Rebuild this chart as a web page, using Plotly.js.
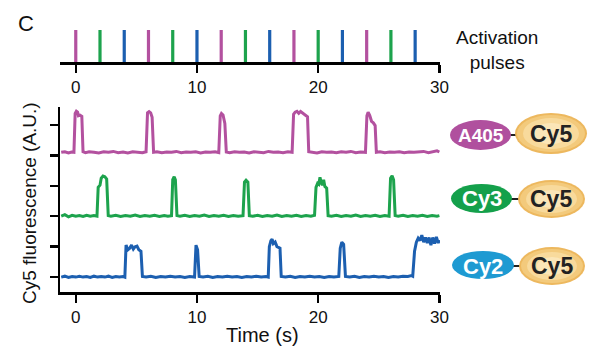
<!DOCTYPE html>
<html><head><meta charset="utf-8">
<script src="https://cdn.plot.ly/plotly-3.0.1.min.js"></script>
<style>html,body{margin:0;padding:0;background:#fff}#chart{width:594px;height:351px}</style>
</head><body><div id="chart"></div>
<script>
// Activation pulse times (s)
const pulseA405 = [0, 6, 12, 18, 24];
const pulseCy3 = [2, 8, 14, 20, 26];
const pulseCy2 = [4, 10, 16, 22, 28];
const pulseHeight = 1;
const xTicks = [0, 10, 20, 30];
const yTicks = [0, 1, 2, 3, 4, 5];

// Fluorescence traces [time (s), offset intensity (A.U.)]
const traceA405 = [[-1.2,4.10],[-0.9,4.12],[-0.6,4.08],[-0.35,4.11],[-0.15,4.10],
[-0.05,5.38],[0.05,5.45],[0.15,5.42],[0.22,5.30],[0.35,5.32],[0.5,5.28],[0.6,4.12],
[0.8,4.09],[1.1,4.12],[1.5,4.10],[1.9,4.08],[2.3,4.12],[2.7,4.10],[3.1,4.13],[3.5,4.09],[3.9,4.11],[4.3,4.08],[4.7,4.12],[5.1,4.10],[5.5,4.09],[5.8,4.12],
[5.92,5.40],[6.05,5.44],[6.18,5.40],[6.3,5.25],[6.42,4.10],
[6.7,4.12],[7.1,4.09],[7.5,4.11],[7.9,4.10],[8.3,4.13],[8.7,4.09],[9.1,4.11],[9.5,4.10],[9.9,4.12],[10.3,4.08],[10.7,4.11],[11.1,4.10],[11.5,4.12],[11.8,4.09],
[11.92,5.30],[12.02,5.38],[12.15,5.33],[12.3,5.05],[12.42,4.11],
[12.7,4.09],[13.1,4.12],[13.5,4.10],[13.9,4.11],[14.3,4.08],[14.7,4.12],[15.1,4.10],[15.5,4.09],[15.9,4.13],[16.3,4.10],[16.7,4.11],[17.1,4.09],[17.5,4.12],[17.85,4.10],
[17.97,5.35],[18.1,5.42],[18.25,5.45],[18.4,5.38],[18.55,5.44],[18.7,5.40],[18.85,5.36],[19.0,5.30],[19.12,5.27],[19.22,4.12],
[19.5,4.10],[19.9,4.08],[20.3,4.12],[20.7,4.10],[21.1,4.11],[21.5,4.09],[21.9,4.12],[22.3,4.10],[22.7,4.13],[23.1,4.09],[23.5,4.11],[23.9,4.10],
[24.02,5.30],[24.12,5.42],[24.25,5.32],[24.4,5.12],[24.55,5.07],[24.7,4.98],[24.8,4.10],
[25.1,4.12],[25.5,4.09],[25.9,4.11],[26.3,4.10],[26.7,4.12],[27.1,4.09],[27.5,4.11],[27.9,4.10],[28.3,4.12],[28.7,4.13],[29.1,4.09],[29.5,4.12],[29.8,4.15],[30.0,4.11]];

const traceCy3 = [[-1.2,2.0],[-0.9,2.05],[-0.6,1.98],[-0.3,2.03],[0.0,2.0],[0.3,2.02],[0.6,1.99],[0.9,2.03],[1.2,2.0],[1.5,2.02],[1.75,2.0],
[1.85,2.95],[2.0,3.02],[2.1,3.25],[2.25,3.32],[2.4,3.30],[2.55,3.22],[2.68,2.02],
[2.9,2.0],[3.3,2.03],[3.7,1.99],[4.1,2.02],[4.5,2.0],[4.9,2.04],[5.3,1.99],[5.7,2.02],[6.1,2.0],[6.5,2.03],[6.9,1.99],[7.3,2.02],[7.6,2.0],[7.9,2.02],
[8.0,3.2],[8.12,3.3],[8.22,3.2],[8.35,2.02],
[8.6,2.0],[9.0,2.03],[9.4,1.99],[9.8,2.02],[10.2,2.0],[10.6,2.04],[11.0,1.99],[11.4,2.02],[11.8,2.0],[12.2,2.03],[12.6,1.99],[13.0,2.02],[13.4,2.0],[13.8,2.02],
[13.92,3.12],[14.05,3.18],[14.2,3.12],[14.32,2.02],
[14.6,2.0],[15.0,2.03],[15.4,1.99],[15.8,2.02],[16.2,2.0],[16.6,2.04],[17.0,1.99],[17.4,2.02],[17.8,2.0],[18.2,2.03],[18.6,1.99],[19.0,2.02],[19.4,2.0],[19.7,2.03],
[19.82,2.95],[19.95,3.08],[20.05,3.05],[20.15,3.28],[20.25,3.1],[20.35,3.02],[20.45,3.2],[20.55,2.98],[20.7,2.92],[20.82,2.02],
[21.1,2.0],[21.5,2.03],[21.9,1.99],[22.3,2.02],[22.7,2.0],[23.1,2.04],[23.5,1.99],[23.9,2.02],[24.3,2.0],[24.7,2.03],[25.1,1.99],[25.5,2.02],[25.85,2.0],
[25.97,3.25],[26.1,3.33],[26.22,3.2],[26.35,2.02],
[26.6,2.0],[27.0,2.03],[27.4,1.99],[27.8,2.02],[28.2,2.0],[28.6,2.03],[29.0,1.99],[29.4,2.02],[29.8,2.0],[30.0,2.02]];

const traceCy2 = [[-1.2,0.0],[-0.9,0.03],[-0.6,-0.01],[-0.3,0.02],[0.0,0.0],[0.3,0.03],[0.6,0.0],[0.9,0.02],[1.2,-0.01],[1.5,0.03],[1.8,0.0],[2.1,0.02],[2.4,0.0],[2.7,0.03],[3.0,-0.01],[3.3,0.02],[3.6,0.0],[3.9,0.02],[4.05,0.0],
[4.15,1.05],[4.3,0.9],[4.45,0.95],[4.6,1.05],[4.75,0.92],[4.9,1.0],[5.05,1.02],[5.2,0.9],[5.38,0.85],[5.5,0.02],
[5.8,0.0],[6.2,0.03],[6.6,-0.01],[7.0,0.02],[7.4,0.0],[7.8,0.03],[8.2,0.0],[8.6,0.02],[9.0,-0.01],[9.4,0.02],[9.8,0.0],
[9.92,1.05],[10.05,0.9],[10.18,0.02],
[10.5,0.0],[10.9,0.03],[11.3,-0.01],[11.7,0.02],[12.1,0.0],[12.5,0.03],[12.9,0.0],[13.3,0.02],[13.7,-0.01],[14.1,0.02],[14.5,0.0],[14.9,0.03],[15.3,0.0],[15.7,0.02],[15.88,0.0],
[15.97,1.0],[16.1,1.2],[16.2,1.25],[16.3,1.1],[16.45,1.15],[16.6,1.0],[16.85,0.95],[16.95,0.02],
[17.3,0.0],[17.7,0.03],[18.1,-0.01],[18.5,0.02],[18.9,0.0],[19.3,0.03],[19.7,0.0],[20.1,0.02],[20.5,-0.01],[20.9,0.02],[21.3,0.0],[21.7,0.02],
[21.82,0.95],[21.95,1.15],[22.1,1.08],[22.25,0.02],
[22.6,0.0],[23.0,0.03],[23.4,-0.01],[23.8,0.02],[24.2,0.0],[24.6,0.03],[25.0,0.0],[25.4,0.02],[25.8,-0.01],[26.2,0.02],[26.6,0.0],[27.0,0.03],[27.4,0.02],[27.7,0.05],[27.8,0.03],
[27.95,0.85],[28.1,1.15],[28.25,1.28],[28.4,1.2],[28.55,1.38],[28.7,1.15],[28.85,1.3],[29.0,1.12],[29.15,1.3],[29.3,1.05],[29.45,1.3],[29.6,1.1],[29.75,1.32],[29.9,1.12],[30.0,1.22]];

const cMag = '#B3519F', cGrn = '#1DA34D', cBlu = '#1C5FB0';
const W = 594, H = 351;
const px = v => v / W, py = v => 1 - v / H;

function line(data, color) {
  return {x: data.map(d => d[0]), y: data.map(d => d[1]), type: 'scatter', mode: 'lines',
    line: {color: color, width: 3}, xaxis: 'x', yaxis: 'y', hoverinfo: 'skip'};
}
function pulses(times, color) {
  const xs = [], ys = [];
  times.forEach(t => { xs.push(t, t, null); ys.push(0, pulseHeight, null); });
  return {x: xs, y: ys, type: 'scatter', mode: 'lines', connectgaps: false,
    line: {color: color, width: 3.2}, xaxis: 'x2', yaxis: 'y2', hoverinfo: 'skip', cliponaxis: false};
}

const data = [
  pulses(pulseA405, cMag), pulses(pulseCy3, cGrn), pulses(pulseCy2, cBlu),
  line(traceA405, cMag), line(traceCy3, cGrn), line(traceCy2, cBlu)
];

const font = {family: '"Liberation Sans", Arial, sans-serif', color: '#111'};
const axisCommon = {range: [-1.3, 30.05], domain: [px(60), px(440)], showline: true, linecolor: '#000', linewidth: 2.5,
  ticks: 'outside', ticklen: 8, tickwidth: 2.5, tickcolor: '#000', tickvals: xTicks,
  tickfont: {size: 17, family: font.family, color: '#111'}, showgrid: false, zeroline: false, fixedrange: true};

function ell(x0, x1, y0, y1, fill) {
  return {type: 'circle', xref: 'paper', yref: 'paper', x0: px(x0), x1: px(x1), y0: py(y1), y1: py(y0),
    fillcolor: fill, line: {width: 0}, layer: 'above'};
}
function cy5(x0, x1, y0, y1) {
  return [ell(x0, x1, y0, y1, '#EDB85E'), ell(x0 + 2, x1 - 2, y0 + 2, y1 - 2, '#F3CA7C'),
    ell(x0 + 8, x1 - 8, y0 + 5, y1 - 5, '#F8DA9C'), ell(x0 + 18, x1 - 18, y0 + 10, y1 - 10, '#FBE6B8')];
}
function dash(x0, x1, y) {
  return {type: 'line', xref: 'paper', yref: 'paper', x0: px(x0), x1: px(x1), y0: py(y), y1: py(y),
    line: {color: '#222', width: 2}, layer: 'above'};
}
const shapes = [
  dash(508, 521, 135), ell(450, 511, 120, 150, '#B0509E'), ...cy5(515, 587, 113, 154),
  dash(510, 521, 199), ell(451, 512, 184, 213, '#14A04B'), ...cy5(518, 585, 180, 218),
  dash(512, 522, 266), ell(452, 514, 251, 279, '#1E9AD2'), ...cy5(519, 585, 247, 285)
];

function ann(text, x, y, size, extra) {
  return Object.assign({text: text, xref: 'paper', yref: 'paper', x: px(x), y: py(y), showarrow: false,
    xanchor: 'center', yanchor: 'middle', font: {size: size, family: font.family, color: '#111'}}, extra || {});
}
const bf = '"Liberation Sans", Arial, sans-serif';
const annotations = [
  ann('C', 26, 23, 22),
  ann('Activation<br>pulses', 497, 50, 19),
  ann('Time (s)', 262, 335, 20),
  ann('Cy5 fluorescence (A.U.)', 29, 203, 19, {textangle: -90}),
  ann('<b>A405</b>', 481, 135, 19, {font: {size: 19, family: bf, color: '#fff'}}),
  ann('<b>Cy5</b>', 551, 134, 23, {font: {size: 23, family: bf, color: '#222'}}),
  ann('<b>Cy3</b>', 482, 199, 22, {font: {size: 22, family: bf, color: '#fff'}}),
  ann('<b>Cy5</b>', 551, 199, 23, {font: {size: 23, family: bf, color: '#222'}}),
  ann('<b>Cy2</b>', 483, 266, 22, {font: {size: 22, family: bf, color: '#fff'}}),
  ann('<b>Cy5</b>', 552, 266, 23, {font: {size: 23, family: bf, color: '#222'}})
];

const layout = {
  width: W, height: H, margin: {l: 0, r: 0, t: 0, b: 0}, paper_bgcolor: '#fff', plot_bgcolor: 'rgba(0,0,0,0)',
  showlegend: false, font: font,
  xaxis: Object.assign({}, axisCommon, {anchor: 'y'}),
  yaxis: {domain: [py(292), py(107)], range: [-0.49, 5.59], showline: true, linecolor: '#000', linewidth: 2.5,
    ticks: 'outside', ticklen: 8, tickwidth: 2.5, tickcolor: '#000', tickvals: yTicks, showticklabels: false,
    showgrid: false, zeroline: false, anchor: 'x', fixedrange: true},
  xaxis2: Object.assign({}, axisCommon, {anchor: 'y2'}),
  yaxis2: {domain: [py(62), py(30)], range: [0, 1], visible: false, anchor: 'x2', fixedrange: true},
  shapes: shapes, annotations: annotations
};
Plotly.newPlot('chart', data, layout, {staticPlot: true, displayModeBar: false});
</script>
</body></html>
